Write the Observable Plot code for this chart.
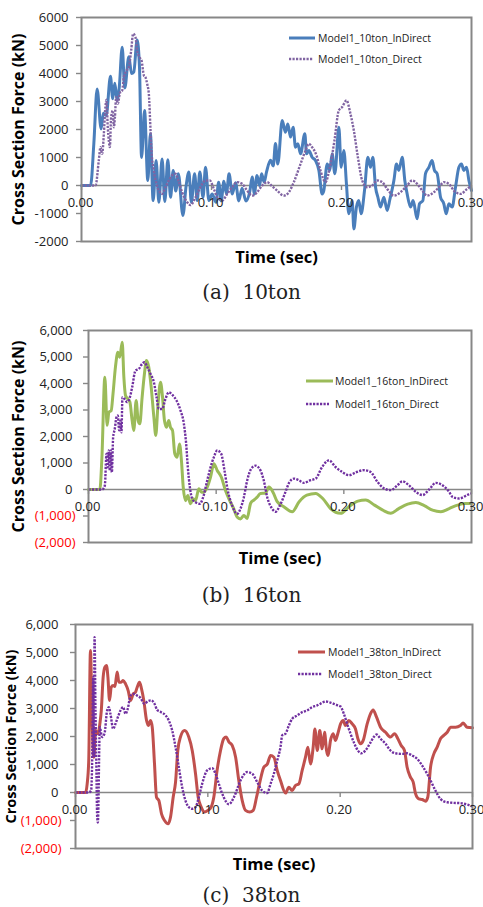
<!DOCTYPE html>
<html><head><meta charset="utf-8">
<script src="https://cdn.jsdelivr.net/npm/d3@7"></script>
<script src="https://cdn.jsdelivr.net/npm/@observablehq/plot@0.6"></script>
<style>
body{margin:0;background:#fff;}
#wrap{position:relative;width:483px;height:907px;overflow:hidden;font-family:"Open Sans",sans-serif;background:#fff;}
.cap{position:absolute;left:20px;width:463px;text-align:center;font-family:"DejaVu Serif",serif;font-size:20px;line-height:24px;color:#222;white-space:pre;}
.leg{position:absolute;display:flex;align-items:center;font-family:"Open Sans",sans-serif;font-size:10.5px;color:#222;white-space:nowrap;height:14px;}
.leg svg{display:block;}
</style></head><body><div id="wrap"></div>
<script>
// ---------- DATA ----------
const xTicks = [0, 0.1, 0.2, 0.3];
const xTickLabels = ["0.00", "0.10", "0.20", "0.30"];
const yTicks = [-2000, -1000, 0, 1000, 2000, 3000, 4000, 5000, 6000];
const yTickLabelsPlain = ["-2000", "-1000", "0", "1000", "2000", "3000", "4000", "5000", "6000"];
const yTickLabelsAcct = ["(2,000)", "(1,000)", "0", "1,000", "2,000", "3,000", "4,000", "5,000", "6,000"];

const xTitle = "Time (sec)";
const yTitle = "Cross Section Force (kN)";
const captions = ["(a)  10ton", "(b)  16ton", "(c)  38ton"];
const seriesNames = [
  ["Model1_10ton_InDirect", "Model1_10ton_Direct"],
  ["Model1_16ton_InDirect", "Model1_16ton_Direct"],
  ["Model1_38ton_InDirect", "Model1_38ton_Direct"]
];

// [time (sec), force (kN)]
const ton10InDirect = [[0,0],[0.007,0],[0.0095,1500],[0.012,3450],[0.0151,2020],[0.0168,2580],[0.019,2500],[0.0223,3900],[0.024,3100],[0.0256,3650],[0.0274,3060],[0.029,3480],[0.0313,4940],[0.0333,3480],[0.0364,4600],[0.0385,4000],[0.0402,4050],[0.0428,5200],[0.0446,4230],[0.0462,1000],[0.0485,2680],[0.051,180],[0.053,1850],[0.0551,-540],[0.0574,890],[0.0595,-600],[0.062,950],[0.0641,-570],[0.0664,920],[0.0685,-420],[0.0705,540],[0.0725,-200],[0.0745,420],[0.078,-1070],[0.0805,0],[0.0826,480],[0.0845,-600],[0.087,420],[0.089,-540],[0.091,480],[0.0935,-420],[0.0954,650],[0.098,-540],[0.1005,-300],[0.1035,-600],[0.1055,120],[0.1075,-550],[0.1095,150],[0.1115,-300],[0.1135,420],[0.116,-300],[0.1185,100],[0.121,-550],[0.1235,-100],[0.1265,-550],[0.1295,-200],[0.1313,300],[0.133,-300],[0.135,360],[0.137,0],[0.1385,420],[0.1405,120],[0.1423,480],[0.1454,900],[0.1475,700],[0.1492,1500],[0.151,770],[0.1544,2320],[0.1569,1900],[0.1587,2200],[0.1608,1730],[0.1628,2080],[0.1646,1370],[0.1664,1490],[0.1685,1130],[0.1718,1850],[0.1731,1130],[0.1749,1250],[0.1774,1010],[0.18,890],[0.1826,540],[0.1851,-300],[0.1864,-180],[0.189,770],[0.191,540],[0.1928,1130],[0.1949,420],[0.198,2080],[0.1997,650],[0.2018,1250],[0.2038,60],[0.2056,-1010],[0.2082,-540],[0.2095,-1550],[0.2115,-770],[0.2133,-540],[0.2151,-1010],[0.2177,-180],[0.2203,1010],[0.2223,650],[0.2241,1010],[0.2262,-60],[0.228,-420],[0.23,-770],[0.2326,-420],[0.2351,-890],[0.2372,-500],[0.2403,180],[0.2423,770],[0.2441,540],[0.2467,1010],[0.2487,180],[0.2505,-300],[0.2531,-770],[0.2551,-540],[0.2582,-1190],[0.26,-650],[0.2626,-540],[0.2646,420],[0.2672,650],[0.2697,890],[0.2715,540],[0.2736,420],[0.2762,-420],[0.2787,-650],[0.2805,-1010],[0.2826,-650],[0.2851,-770],[0.2877,-60],[0.2903,650],[0.2923,770],[0.2941,540],[0.2962,650],[0.298,180],[0.3,-180]];
const ton10Direct = [[0,0],[0.0108,0],[0.0133,890],[0.0146,1370],[0.0159,1130],[0.0172,1850],[0.0182,2680],[0.0192,3060],[0.0202,2080],[0.021,1610],[0.0218,1370],[0.0228,2440],[0.0241,2680],[0.0249,2080],[0.0257,2440],[0.0267,3150],[0.028,2920],[0.0295,3300],[0.0313,3390],[0.0326,3870],[0.0346,4100],[0.0364,4230],[0.0382,4820],[0.0397,5420],[0.0415,5300],[0.0428,4820],[0.0446,4580],[0.0462,4460],[0.048,3930],[0.0492,3870],[0.0505,3630],[0.0518,3270],[0.0531,1970],[0.0538,1250],[0.0556,540],[0.0577,60],[0.0595,-180],[0.062,-300],[0.0646,-60],[0.0672,180],[0.0697,360],[0.0723,420],[0.0749,120],[0.0774,-240],[0.0813,-600],[0.0839,-700],[0.0877,-420],[0.0915,-60],[0.0954,180],[0.0987,180],[0.1018,-120],[0.1044,-420],[0.1082,-540],[0.1121,-300],[0.1159,-60],[0.1197,120],[0.1236,60],[0.1274,-180],[0.1313,-360],[0.1351,-240],[0.139,0],[0.1428,120],[0.146,0],[0.1505,-180],[0.1556,-360],[0.1595,-240],[0.1633,120],[0.1685,770],[0.1723,1250],[0.1749,1490],[0.1774,1370],[0.1808,1070],[0.1838,540],[0.1877,120],[0.191,650],[0.1946,1610],[0.1979,2680],[0.2005,2800],[0.2038,3040],[0.2069,2560],[0.2095,1960],[0.2126,1010],[0.2159,180],[0.2197,-60],[0.2236,0],[0.2274,180],[0.2313,120],[0.2351,-120],[0.2403,-360],[0.2454,-240],[0.2505,0],[0.2544,180],[0.2582,60],[0.2621,-180],[0.2659,-360],[0.271,-240],[0.275,-60],[0.2787,120],[0.2826,60],[0.2864,-180],[0.2915,-300],[0.2967,-120],[0.3,0]];

const ton16InDirect = [[0,0],[0.0089,0],[0.0105,1200],[0.0128,4240],[0.0146,2420],[0.016,2920],[0.0178,2980],[0.0192,3610],[0.0211,4620],[0.023,5180],[0.0245,4990],[0.0264,5560],[0.0277,4240],[0.029,3550],[0.0308,3420],[0.0324,3300],[0.0342,2600],[0.0355,2230],[0.0373,3360],[0.0389,2600],[0.0402,2480],[0.042,3480],[0.0438,4360],[0.0454,4870],[0.0472,4620],[0.0491,3860],[0.0512,2730],[0.0527,2040],[0.0543,3110],[0.0564,4050],[0.058,3480],[0.0595,2600],[0.0611,2350],[0.0629,2600],[0.0642,2350],[0.0658,2230],[0.0676,1350],[0.0694,1220],[0.0713,1720],[0.0728,1090],[0.0742,90],[0.076,-420],[0.0778,-230],[0.0799,-540],[0.082,-350],[0.0838,-420],[0.0864,25],[0.0885,-100],[0.0903,-100],[0.093,90],[0.0956,470],[0.0982,970],[0.1008,720],[0.104,470],[0.1073,-40],[0.1106,-420],[0.1138,-730],[0.1164,-1040],[0.119,-1110],[0.1217,-980],[0.1242,-1090],[0.127,-520],[0.1295,-400],[0.1321,-290],[0.1347,-150],[0.1386,-140],[0.1413,90],[0.1445,-100],[0.1478,-460],[0.153,-650],[0.1596,-840],[0.165,-460],[0.171,-210],[0.1779,-150],[0.1835,-340],[0.1896,-720],[0.1975,-900],[0.204,-650],[0.211,-440],[0.2171,-400],[0.224,-590],[0.2305,-780],[0.2367,-900],[0.243,-720],[0.25,-550],[0.2564,-490],[0.263,-610],[0.2695,-780],[0.276,-840],[0.2825,-720],[0.289,-590],[0.295,-530],[0.3,-530]];
const ton16Direct = [[0,0],[0.0107,0],[0.0128,150],[0.0141,1350],[0.0151,840],[0.0159,1470],[0.0167,720],[0.0175,1470],[0.0183,650],[0.0193,1970],[0.0206,2290],[0.0219,2730],[0.023,2790],[0.024,2230],[0.0251,2600],[0.0258,2160],[0.0266,3480],[0.0282,3420],[0.0303,3300],[0.0324,3480],[0.0342,3860],[0.0368,4490],[0.0394,4550],[0.042,4740],[0.0439,4800],[0.046,4620],[0.0486,4360],[0.0512,4050],[0.0533,3480],[0.0551,3040],[0.0577,3040],[0.0603,3420],[0.0629,3670],[0.0655,3580],[0.0689,3360],[0.0721,2980],[0.0747,2480],[0.0765,1720],[0.0778,840],[0.0794,90],[0.0812,-350],[0.0838,-480],[0.0872,-540],[0.0898,-290],[0.093,340],[0.0956,840],[0.0982,1220],[0.1008,1470],[0.1039,1350],[0.1065,720],[0.1091,-40],[0.1125,-600],[0.1164,-920],[0.119,-730],[0.1217,-290],[0.1243,340],[0.1274,780],[0.1308,900],[0.1347,720],[0.1373,340],[0.14,-290],[0.1439,-730],[0.1465,-840],[0.15,-600],[0.1543,-90],[0.1575,290],[0.1609,410],[0.1648,350],[0.1687,250],[0.174,350],[0.1779,410],[0.183,850],[0.1883,1100],[0.1935,850],[0.1988,660],[0.204,540],[0.21,660],[0.2158,730],[0.221,660],[0.2263,290],[0.2315,40],[0.2367,-25],[0.242,160],[0.2459,310],[0.251,160],[0.2564,-90],[0.2616,-210],[0.2668,0],[0.272,250],[0.2772,160],[0.2825,-90],[0.2851,-280],[0.2903,-340],[0.298,-180],[0.3,-150]];

const ton38InDirect = [[0,0],[0.0076,0],[0.0088,300],[0.01,1140],[0.0113,5070],[0.0126,2500],[0.0139,1260],[0.0151,2210],[0.017,2100],[0.0184,2450],[0.0195,2930],[0.0209,4120],[0.0222,4480],[0.0234,4540],[0.0245,4120],[0.0257,3290],[0.027,3760],[0.0285,3820],[0.0298,3790],[0.0315,4300],[0.0328,3940],[0.0345,3940],[0.036,4000],[0.0378,3880],[0.0398,3640],[0.0416,3290],[0.0436,3520],[0.0453,3580],[0.0466,3760],[0.0484,3940],[0.0499,3700],[0.0516,3290],[0.0537,2570],[0.055,2390],[0.0567,2570],[0.058,2330],[0.0597,1020],[0.0612,-170],[0.063,-290],[0.065,-760],[0.0673,-1000],[0.07,-1120],[0.0718,-880],[0.0738,-170],[0.0756,370],[0.0773,1500],[0.0793,1980],[0.0824,2210],[0.0856,1980],[0.0882,1500],[0.0907,670],[0.0927,-170],[0.095,-520],[0.0975,-700],[0.1,-640],[0.1025,-520],[0.1045,-170],[0.107,790],[0.1096,1500],[0.112,1920],[0.1139,1980],[0.116,1800],[0.1184,1680],[0.121,1260],[0.1234,430],[0.126,-290],[0.1285,-640],[0.1317,-700],[0.1343,-640],[0.1368,-170],[0.1393,370],[0.1423,900],[0.145,1020],[0.1474,1320],[0.1499,1260],[0.1524,790],[0.1549,430],[0.1587,-20],[0.1612,190],[0.1637,70],[0.1662,250],[0.1688,310],[0.1713,790],[0.1738,1260],[0.1756,1620],[0.1776,1020],[0.1796,1620],[0.1809,2270],[0.1827,1500],[0.1846,2210],[0.1864,1560],[0.1882,2150],[0.1897,1500],[0.1909,1320],[0.1927,1860],[0.1947,2100],[0.1965,1860],[0.1982,2100],[0.2003,2450],[0.2023,2570],[0.204,2390],[0.2065,2570],[0.2091,2450],[0.2116,2270],[0.2134,1920],[0.2154,1740],[0.2174,1860],[0.2204,2450],[0.2229,2810],[0.2249,2950],[0.2275,2690],[0.2305,2330],[0.2343,2150],[0.238,1980],[0.2411,2100],[0.2436,1920],[0.2461,1680],[0.2486,1500],[0.2506,900],[0.2531,550],[0.2552,370],[0.257,-50],[0.2594,-230],[0.262,-250],[0.2645,-310],[0.2662,-170],[0.2683,900],[0.2708,1380],[0.2733,1620],[0.2758,1920],[0.2783,2040],[0.2809,2150],[0.2834,2330],[0.2872,2330],[0.2909,2390],[0.2929,2480],[0.2959,2330],[0.3,2310]];
const ton38Direct = [[0,0],[0.01,0],[0.0118,70],[0.0126,1140],[0.0134,4120],[0.0139,1260],[0.0144,5550],[0.0151,2930],[0.0156,1500],[0.0164,-880],[0.0169,-1070],[0.0184,2330],[0.0201,1980],[0.0219,2100],[0.0239,2930],[0.0252,3050],[0.0264,2810],[0.0285,2270],[0.0302,2450],[0.032,2690],[0.034,2930],[0.036,3050],[0.0378,2810],[0.0395,2990],[0.0416,3460],[0.0441,3520],[0.0466,3460],[0.0491,3380],[0.0521,3170],[0.0547,3260],[0.0572,3290],[0.0597,3170],[0.0617,2950],[0.0647,2870],[0.068,2760],[0.0705,2570],[0.0731,2210],[0.0756,1620],[0.0781,900],[0.0806,190],[0.0831,-290],[0.0856,-520],[0.0882,-580],[0.0907,-520],[0.0932,-170],[0.0957,310],[0.0995,790],[0.1033,870],[0.1058,670],[0.1083,310],[0.112,-170],[0.1159,-420],[0.1197,-170],[0.1247,430],[0.1297,730],[0.1335,670],[0.1373,370],[0.141,70],[0.1448,-20],[0.1474,310],[0.1499,670],[0.1524,1140],[0.1549,1620],[0.1562,2040],[0.1587,2100],[0.1612,2390],[0.1637,2630],[0.1675,2750],[0.1713,2870],[0.175,2930],[0.1788,3050],[0.1826,3110],[0.1851,3170],[0.1889,3250],[0.1927,3210],[0.1965,3140],[0.2003,3070],[0.2028,2810],[0.2053,2450],[0.2078,2100],[0.2108,1740],[0.2134,1500],[0.2159,1400],[0.2191,1500],[0.2224,1740],[0.2254,1980],[0.2275,2070],[0.2305,1920],[0.2343,1740],[0.238,1500],[0.2418,1400],[0.2469,1380],[0.2506,1400],[0.2544,1320],[0.2582,1200],[0.262,960],[0.2657,670],[0.2683,430],[0.272,70],[0.2758,-230],[0.2809,-350],[0.2859,-370],[0.2909,-380],[0.2959,-430],[0.3,-500]];

// ---------- DRAWING ----------
const GRAY = "#878787";
const DASH = "2.2,1.3";
const wrap = document.getElementById("wrap");

function panel(cfg) {
  const {top, height, mt, mb, ml, mr, solid, dotted, solidColor, dotColor, labels, negRed, posDx, negDx, yTitleSize, yTitleDx} = cfg;
  const isNeg = (d) => d < 0;
  const idx = yTicks.map((d, i) => i);
  const marks = [
    Plot.ruleY([0], {stroke: GRAY, strokeWidth: 1.6}),
    Plot.ruleX(xTicks, {x: d => d, y1: () => 0, y2: () => 0, insetBottom: -5, stroke: GRAY, strokeWidth: 1.4}),
    Plot.ruleY(yTicks, {y: d => d, x1: () => 0, x2: () => 0, insetLeft: -5, stroke: GRAY, strokeWidth: 1.4}),
    Plot.line(solid, {x: d => d[0], y: d => d[1], stroke: solidColor, strokeWidth: 3, curve: "monotone-x"}),
    Plot.line(dotted, {x: d => d[0], y: d => d[1], stroke: dotColor, strokeWidth: 2.4, strokeDasharray: DASH, strokeLinecap: "butt", strokeLinejoin: "miter", curve: "monotone-x"}),
    Plot.frame({stroke: GRAY, strokeWidth: 2}),
    Plot.text(xTicks, {x: d => d, y: () => 0, text: (d, i) => xTickLabels[i], lineAnchor: "top", dy: 12, dx: -1, fontSize: 13, fill: "#222"}),
    Plot.text(idx.filter(i => !isNeg(yTicks[i]) || !negRed), {frameAnchor: "left", y: i => yTicks[i], text: i => labels[i], textAnchor: "end", lineAnchor: "middle", dx: posDx, fontSize: 13, fill: "#222"}),
    Plot.text([xTitle], {frameAnchor: "bottom", text: d => d, textAnchor: "middle", lineAnchor: "middle", dy: 16, fontSize: 16.5, fontWeight: "bold", fill: "#000"}),
    Plot.text([yTitle], {frameAnchor: "left", text: d => d, rotate: -90, textAnchor: "middle", lineAnchor: "middle", dx: yTitleDx, fontSize: yTitleSize, fontWeight: "bold", fill: "#000"})
  ];
  if (negRed) {
    marks.push(Plot.text(idx.filter(i => isNeg(yTicks[i])), {frameAnchor: "left", y: i => yTicks[i], text: i => labels[i], textAnchor: "end", lineAnchor: "middle", dx: negDx, fontSize: 13, fill: "#ff0000"}));
  }
  const svg = Plot.plot({
    width: 483, height,
    marginTop: mt, marginBottom: mb, marginLeft: ml, marginRight: mr,
    x: {domain: [0, 0.3], axis: null},
    y: {domain: [-2000, 6000], axis: null},
    style: {fontFamily: "Open Sans, sans-serif", background: "transparent", overflow: "visible"},
    marks
  });
  svg.style.position = "absolute";
  svg.style.left = "0px";
  svg.style.top = top + "px";
  wrap.appendChild(svg);
}

function legendRow(x0, lineLen, textX, cy, color, dotted, text) {
  const div = document.createElement("div");
  div.className = "leg";
  div.style.left = x0 + "px";
  div.style.top = (cy - 7) + "px";
  const w = textX - x0;
  div.innerHTML = `<svg width="${w}" height="14"><line x1="0" x2="${lineLen}" y1="7" y2="7" stroke="${color}" stroke-width="${dotted ? 2.4 : 3}" ${dotted ? `stroke-dasharray="${DASH}"` : ''}/></svg><span>${text}</span>`;
  wrap.appendChild(div);
}

function caption(text, cy) {
  const div = document.createElement("div");
  div.className = "cap";
  div.style.top = (cy - 12) + "px";
  div.textContent = text;
  wrap.appendChild(div);
}

// Panel (a)
panel({top: 0, height: 272, mt: 17, mb: 31, ml: 81, mr: 12,
  solid: ton10InDirect, dotted: ton10Direct, solidColor: "#4a7ebb", dotColor: "#8064a2",
  labels: yTickLabelsPlain, negRed: false, posDx: -13, negDx: -13, yTitleSize: 16, yTitleDx: -63});
legendRow(289, 26, 318, 38, "#4a7ebb", false, seriesNames[0][0]);
legendRow(289, 24, 318, 59, "#8064a2", true, seriesNames[0][1]);
caption(captions[0], 292);

// Panel (b)
panel({top: 300, height: 272, mt: 30, mb: 30, ml: 88, mr: 12,
  solid: ton16InDirect, dotted: ton16Direct, solidColor: "#9bbb59", dotColor: "#7030a0",
  labels: yTickLabelsAcct, negRed: true, posDx: -16, negDx: -13, yTitleSize: 16, yTitleDx: -70});
legendRow(306, 27, 335, 381, "#9bbb59", false, seriesNames[1][0]);
legendRow(306, 23, 335, 404, "#7030a0", true, seriesNames[1][1]);
caption(captions[1], 595);

// Panel (c)
panel({top: 600, height: 278, mt: 24, mb: 30, ml: 75, mr: 11,
  solid: ton38InDirect, dotted: ton38Direct, solidColor: "#c0504d", dotColor: "#7030a0",
  labels: yTickLabelsAcct, negRed: true, posDx: -17, negDx: -14, yTitleSize: 14.5, yTitleDx: -64});
legendRow(298, 27, 328, 652, "#c0504d", false, seriesNames[2][0]);
legendRow(298, 24, 328, 674, "#7030a0", true, seriesNames[2][1]);
caption(captions[2], 895);
</script>
</body></html>
